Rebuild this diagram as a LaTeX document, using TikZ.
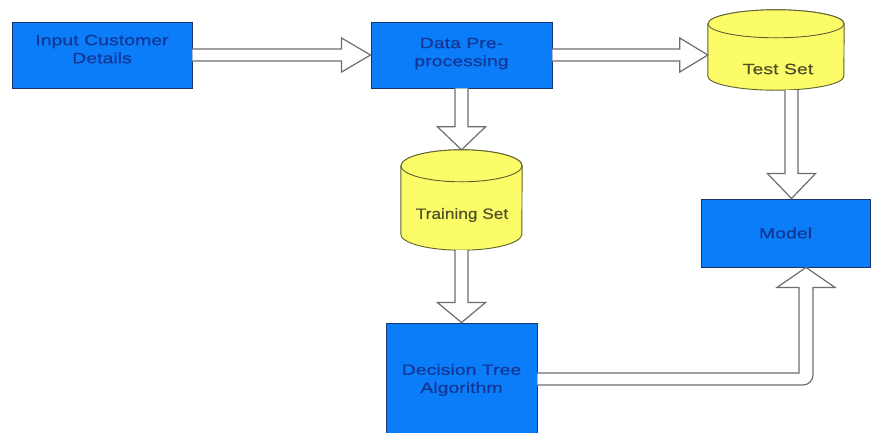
\documentclass[tikz,border=0pt]{standalone}
\usepackage{fontspec}
\newfontfamily\diagfont[FakeStretch=1.3, FakeBold=0.6]{Liberation Sans}
\newfontfamily\diagfontb[FakeStretch=1.15, FakeBold=0.6]{Liberation Sans}
\usetikzlibrary{calc}
\definecolor{boxblue}{RGB}{12,125,248}
\definecolor{boxedge}{RGB}{25,55,110}
\definecolor{boxtext}{RGB}{18,55,150}
\definecolor{cylyellow}{RGB}{252,252,105}
\definecolor{cyledge}{RGB}{95,95,45}
\definecolor{cyltext}{RGB}{80,80,40}
\definecolor{arrowgray}{RGB}{110,110,110}
\tikzset{
  procbox/.style={draw=boxedge, fill=boxblue, line width=0.9pt, text=boxtext,
    font=\diagfont\fontsize{15}{18}\selectfont, align=center, inner sep=0pt},
  cylarea/.style={inner sep=0pt, draw=none},
  cylshape/.style={draw=cyledge, fill=cylyellow, line width=0.9pt},
  cyllabel/.style={text=cyltext, inner sep=0pt},
  harrow/.style={draw=arrowgray, fill=white, line width=1.2pt, line join=miter}
}
\begin{document}
\begin{tikzpicture}[x=1pt,y=-1pt]
\clip (0,0) rectangle (871,432);
\fill[white] (0,0) rectangle (871,432);

% process boxes
\node[procbox, minimum width=180pt, minimum height=66pt, text depth=12pt] (in) at (102,55) {Input Customer\\Details};
\node[procbox, minimum width=181pt, minimum height=66pt, text depth=6pt] (pre) at (461.5,55) {Data Pre-\\processing};
\node[procbox, minimum width=151pt, minimum height=114pt] (dt) at (461.5,380) {Decision Tree\\Algorithm};
\node[procbox, minimum width=169pt, minimum height=68pt] (model) at (785.5,233) {Model};

% cylinder areas
\node[cylarea, minimum width=121pt, minimum height=100pt] (train) at (461.5,200) {};
\node[cylarea, minimum width=136pt, minimum height=80pt] (test) at (776,50) {};

% training set cylinder
\filldraw[cylshape] ($(train.north west)+(0,16)$) -- ($(train.south west)+(0,-16)$)
  arc[start angle=180, end angle=360, x radius=60.5pt, y radius=16pt]
  -- ($(train.north east)+(0,16)$)
  arc[start angle=0, end angle=180, x radius=60.5pt, y radius=16pt] -- cycle;
\draw[cylshape] ($(train.north)+(0,16)$) ellipse[x radius=60.5pt, y radius=16pt];
\node[cyllabel, font=\diagfontb\fontsize{15}{18}\selectfont] (trainlbl) at (462,215) {Training Set};

% test set cylinder
\filldraw[cylshape] ($(test.north west)+(0,14)$) -- ($(test.south west)+(0,-14)$)
  arc[start angle=180, end angle=360, x radius=68pt, y radius=14pt]
  -- ($(test.north east)+(0,14)$)
  arc[start angle=0, end angle=180, x radius=68pt, y radius=14pt] -- cycle;
\draw[cylshape] ($(test.north)+(0,14)$) ellipse[x radius=68pt, y radius=14pt];
\node[cyllabel, font=\diagfont\fontsize{15}{18}\selectfont] (testlbl) at (778,69) {Test Set};

% arrow: input -> preprocessing
\draw[harrow] ($(in.east)+(0,-6)$) -- ($(pre.west)+(-29,-6)$) -- ($(pre.west)+(-29,-17)$)
  -- (pre.west) -- ($(pre.west)+(-29,17)$) -- ($(pre.west)+(-29,6)$) -- ($(in.east)+(0,6)$);

% arrow: preprocessing -> test set
\coordinate (t2) at (pre.east -| test.west);
\draw[harrow] ($(pre.east)+(0,-6)$) -- ($(t2)+(-28,-6)$) -- ($(t2)+(-28,-17)$)
  -- (t2) -- ($(t2)+(-28,17)$) -- ($(t2)+(-28,6)$) -- ($(pre.east)+(0,6)$);

% arrow: preprocessing -> training set
\draw[harrow] ($(pre.south)+(-6.5,0)$) -- ($(train.north)+(-6.5,-23)$) -- ($(train.north)+(-24,-23)$)
  -- (train.north) -- ($(train.north)+(24,-23)$) -- ($(train.north)+(6.5,-23)$) -- ($(pre.south)+(6.5,0)$);

% arrow: training set -> decision tree
\draw[harrow] ($(train.south)+(-6.5,0)$) -- ($(dt.north)+(-6.5,-20)$) -- ($(dt.north)+(-24,-20)$)
  -- (dt.north) -- ($(dt.north)+(24,-20)$) -- ($(dt.north)+(6.5,-20)$) -- ($(train.south)+(6.5,0)$);

% arrow: test set -> model
\coordinate (a5) at (791.5,0);
\coordinate (s5) at (test.south -| a5);
\coordinate (t5) at (model.north -| a5);
\draw[harrow] ($(s5)+(-6.5,0)$) -- ($(t5)+(-6.5,-25)$) -- ($(t5)+(-24,-25)$)
  -- (t5) -- ($(t5)+(24,-25)$) -- ($(t5)+(6.5,-25)$) -- ($(s5)+(6.5,0)$);

% arrow: decision tree -> model (bent)
\coordinate (k) at (806,379);
\coordinate (t6) at (model.south -| k);
\draw[harrow] ($(dt.east|-k)+(0,-6)$) -- ($(k)+(-7,-6)$) -- ($(t6)+(-7,20)$) -- ($(t6)+(-29,20)$)
  -- (t6) -- ($(t6)+(29,20)$) -- ($(t6)+(7,20)$) -- ($(k)+(7,-4)$)
  arc[start angle=0, end angle=-90, radius=10pt] -- ($(dt.east|-k)+(0,6)$);
\end{tikzpicture}
\end{document}
